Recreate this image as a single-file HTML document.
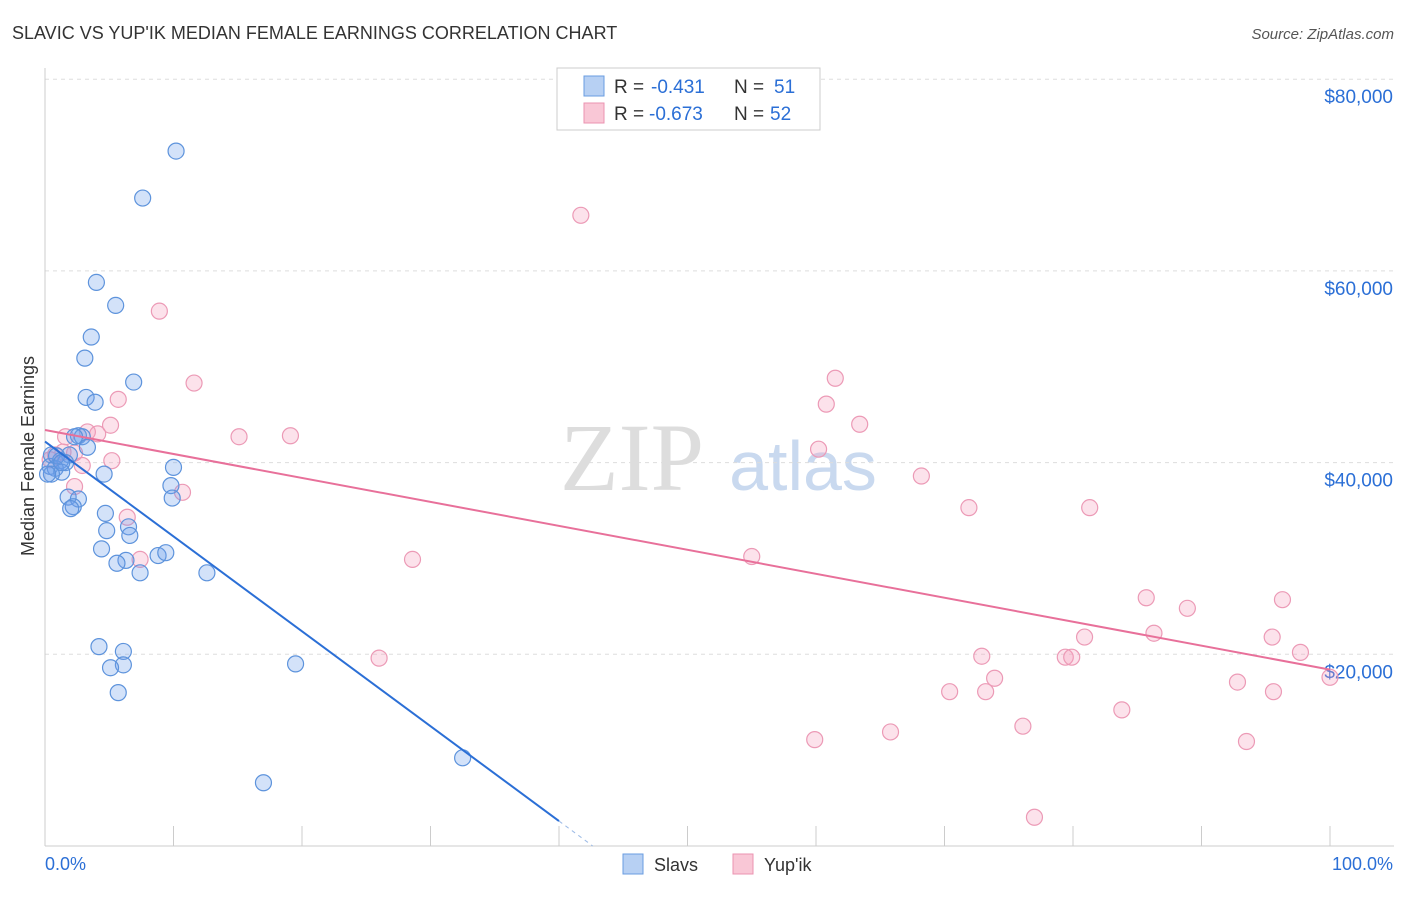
<!DOCTYPE html>
<html><head><meta charset="utf-8">
<style>
body{margin:0;background:#fff;font-family:"Liberation Sans",sans-serif;}
svg text{font-family:"Liberation Sans",sans-serif;}
</style></head>
<body>
<svg id="chart" width="1406" height="892">
<text x="12" y="39" font-size="18" fill="#333">SLAVIC VS YUP'IK MEDIAN FEMALE EARNINGS CORRELATION CHART</text>
<text x="1394" y="39" font-size="15" fill="#555" font-style="italic" text-anchor="end">Source: ZipAtlas.com</text>
<g>
<text x="632" y="490" font-size="96" fill="#ddd" font-family="Liberation Serif" text-anchor="middle" style="font-family:'Liberation Serif',serif">ZIP</text>
<text x="803" y="490" font-size="70" fill="#c9d9ef" text-anchor="middle">atlas</text>
</g>
<g id="grid"></g>
<g id="axes"></g>
<g id="marks"></g>
<text transform="translate(34,456) rotate(-90)" font-size="18" fill="#333" text-anchor="middle">Median Female Earnings</text>
<g>
<rect x="557" y="68" width="263" height="62" fill="#fff" stroke="#ccc"/>
<rect x="584" y="76" width="20" height="20" fill="#b7d0f3" stroke="#6a9ce0"/>
<rect x="584" y="103" width="20" height="20" fill="#f9c7d6" stroke="#eb93b0"/>
<text y="93" font-size="19" fill="#333"><tspan x="614">R =</tspan><tspan x="651" fill="#2b6fd6">-0.431</tspan><tspan x="734">N =</tspan><tspan x="774" fill="#2b6fd6">51</tspan></text>
<text y="120" font-size="19" fill="#333"><tspan x="614">R =</tspan><tspan x="649" fill="#2b6fd6">-0.673</tspan><tspan x="734">N =</tspan><tspan x="770" fill="#2b6fd6">52</tspan></text>
</g>
<g>
<rect x="623" y="854" width="20" height="20" fill="#b7d0f3" stroke="#6a9ce0"/>
<text x="654" y="871" font-size="18" fill="#333">Slavs</text>
<rect x="733" y="854" width="20" height="20" fill="#f9c7d6" stroke="#eb93b0"/>
<text x="764" y="871" font-size="18" fill="#333">Yup'ik</text>
</g>
</svg>
<script>
const yTicks=[20000,40000,60000,80000];
const yTickLabels=["$20,000","$40,000","$60,000","$80,000"];
const xTickCount=10;
const slavsX=[10.2,7.6,4.0,5.5,3.6,3.1,6.9,3.2,3.9,2.6,2.9,3.3,1.9,0.5,1.2,1.6,0.4,0.8,1.3,0.5,4.6,10.0,9.8,1.8,2.6,9.9,2.2,2.0,4.7,4.8,6.5,6.6,4.4,8.8,9.4,6.3,5.6,7.4,12.6,4.2,6.1,6.1,5.1,19.5,5.7,17.0,32.5,0.2,0.9,2.3,1.3];
const slavsY=[72.5,67.6,58.8,56.4,53.1,50.9,48.4,46.8,46.3,42.8,42.7,41.6,40.8,40.8,40.2,40.0,39.6,39.4,39.0,38.8,38.8,39.5,37.6,36.4,36.2,36.3,35.4,35.2,34.7,32.9,33.3,32.4,31.0,30.3,30.6,29.8,29.5,28.5,28.5,20.8,20.3,18.9,18.6,19.0,16.0,6.6,9.2,38.8,40.7,42.7,40.0];
const yupikX=[41.7,8.9,11.6,61.5,60.8,5.7,63.4,5.1,1.6,15.1,19.1,3.3,4.1,60.2,1.4,2.3,5.2,2.9,68.2,2.3,10.7,71.9,81.3,6.4,7.4,28.6,55.0,85.7,88.9,96.3,80.9,86.3,95.5,97.7,72.9,79.4,79.9,26.0,73.9,70.4,73.2,92.8,95.6,100.0,83.8,65.8,76.1,59.9,93.5,77.0,0.4,0.8];
const yupikY=[65.8,55.8,48.3,48.8,46.1,46.6,44.0,43.9,42.7,42.7,42.8,43.2,43.0,41.4,41.1,41.0,40.2,39.7,38.6,37.5,36.9,35.3,35.3,34.3,29.9,29.9,30.2,25.9,24.8,25.7,21.8,22.2,21.8,20.2,19.8,19.7,19.7,19.6,17.5,16.1,16.1,17.1,16.1,17.6,14.2,11.9,12.5,11.1,10.9,3.0,40.3,40.8];
const slavsTrend=[42.2,-0.99];   // intercept (k$), slope per %
const slavsSolidEnd=40;          // % where solid part ends
const yupikTrend=[43.4,-0.25];

const NS="http://www.w3.org/2000/svg";
const xs=p=>45+p*12.85;
const ys=k=>846-k*9.585;
function mk(tag,attrs,parent){const e=document.createElementNS(NS,tag);for(const k in attrs)e.setAttribute(k,attrs[k]);parent.appendChild(e);return e;}
const grid=document.getElementById('grid'),axes=document.getElementById('axes'),marks=document.getElementById('marks');
yTicks.forEach((t,i)=>{
 const y=ys(t/1000);
 const l=mk('line',{x1:45,x2:1394,y1:y,y2:y,stroke:'#ddd','stroke-dasharray':'4,4'},grid);
 
 
 const tx=mk('text',{x:1393,y:y+24,'font-size':19,fill:'#2b6fd6','text-anchor':'end'},axes);
 tx.textContent=yTickLabels[i];
 
 
});
const ax=mk('line',{x1:45,x2:1394,y1:846,y2:846,stroke:'#ccc'},axes);


const ay=mk('line',{x1:45,x2:45,y1:68,y2:846,stroke:'#ccc'},axes);


for(let i=0;i<=xTickCount;i++){
 const x=xs(i*100/xTickCount);
 const t=mk('line',{x1:x,x2:x,y1:826,y2:846,stroke:'#ccc'},axes);
 
 
}
const x0=mk('text',{x:45,y:870,'font-size':18,fill:'#2b6fd6'},axes);x0.textContent='0.0%';


const x1=mk('text',{x:1393,y:870,'font-size':18,fill:'#2b6fd6','text-anchor':'end'},axes);x1.textContent='100.0%';



function pts(X,Y,fill,stroke,name){
 X.forEach((v,i)=>{
  const c=mk('circle',{cx:xs(v),cy:ys(Y[i]),r:8,fill:fill,stroke:stroke,'stroke-width':1.2},marks);
  
  
 });
}
pts(yupikX,yupikY,'rgba(245,160,190,0.3)','#ec9ab6','yupik-point');
pts(slavsX,slavsY,'rgba(110,160,235,0.3)','#5d93dc','slavs-point');
const sEnd=slavsSolidEnd, sZero=(0-slavsTrend[0])/slavsTrend[1];
const ls=mk('line',{x1:xs(0),y1:ys(slavsTrend[0]),x2:xs(sEnd),y2:ys(slavsTrend[0]+slavsTrend[1]*sEnd),stroke:'#2b6fd6','stroke-width':2},marks);


const ld=mk('line',{x1:xs(sEnd),y1:ys(slavsTrend[0]+slavsTrend[1]*sEnd),x2:xs(sZero),y2:ys(0),stroke:'#9dbbe6','stroke-width':1,'stroke-dasharray':'4,4'},marks);


const ly=mk('line',{x1:xs(0),y1:ys(yupikTrend[0]),x2:xs(100),y2:ys(yupikTrend[0]+yupikTrend[1]*100),stroke:'#e8709a','stroke-width':2},marks);


</script>
</body></html>
